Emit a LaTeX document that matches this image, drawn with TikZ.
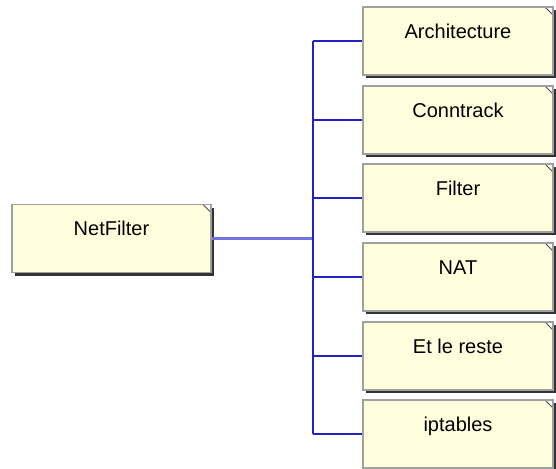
\documentclass[tikz,border=0pt]{standalone}
\usepackage{fontspec}
\setmainfont{Liberation Sans}
\usetikzlibrary{shadows}
\definecolor{notefill}{HTML}{FFFFDD}
\definecolor{noteline}{HTML}{A0A0A0}
\definecolor{busblue}{HTML}{2222C4}
\definecolor{mainblue}{HTML}{7272E0}
\begin{document}
\begin{tikzpicture}[x=0.5pt, y=-0.5pt,
	note/.style={draw=noteline, line width=0.6pt, fill=notefill, inner sep=0pt,
		minimum width=95pt, minimum height=34pt, text height=15.6pt, text depth=18.4pt,
		font=\fontsize{10}{12}\selectfont,
		drop shadow={shadow xshift=1.4pt, shadow yshift=-1.6pt, fill=black!80, opacity=1},
		path picture={
			\fill[white] ([xshift=-4pt]path picture bounding box.north east) -- (path picture bounding box.north east) -- ([yshift=-4pt]path picture bounding box.north east) -- cycle;
			\draw[black!70, line width=0.5pt] ([xshift=-4pt]path picture bounding box.north east) -- ([yshift=-4pt]path picture bounding box.north east);
		}},
	branch/.style={busblue, line width=1pt},
	trunk/.style={mainblue, line width=1.5pt}]
	\useasboundingbox (0,0) rectangle (556,468);

	\node[note, minimum width=99.5pt] (net) at (111.5,238.5) {NetFilter};

	\node[note] (arch) at (458,41) {Architecture};
	\node[note] (conn) at (458,120) {Conntrack};
	\node[note] (filt) at (458,198) {Filter};
	\node[note] (nat) at (458,277) {NAT};
	\node[note] (rest) at (458,356) {Et le reste};
	\node[note] (ipt) at (458,434) {iptables};

	\coordinate (jn) at (313,238.5);
	\draw[trunk] (net.east) -- (jn);
	\draw[branch] (jn |- arch.west) -- (jn |- ipt.west);

	\draw[branch] (jn |- arch.west) -- (arch.west);
	\draw[branch] (jn |- conn.west) -- (conn.west);
	\draw[branch] (jn |- filt.west) -- (filt.west);
	\draw[branch] (jn |- nat.west) -- (nat.west);
	\draw[branch] (jn |- rest.west) -- (rest.west);
	\draw[branch] (jn |- ipt.west) -- (ipt.west);

\end{tikzpicture}
\end{document}
